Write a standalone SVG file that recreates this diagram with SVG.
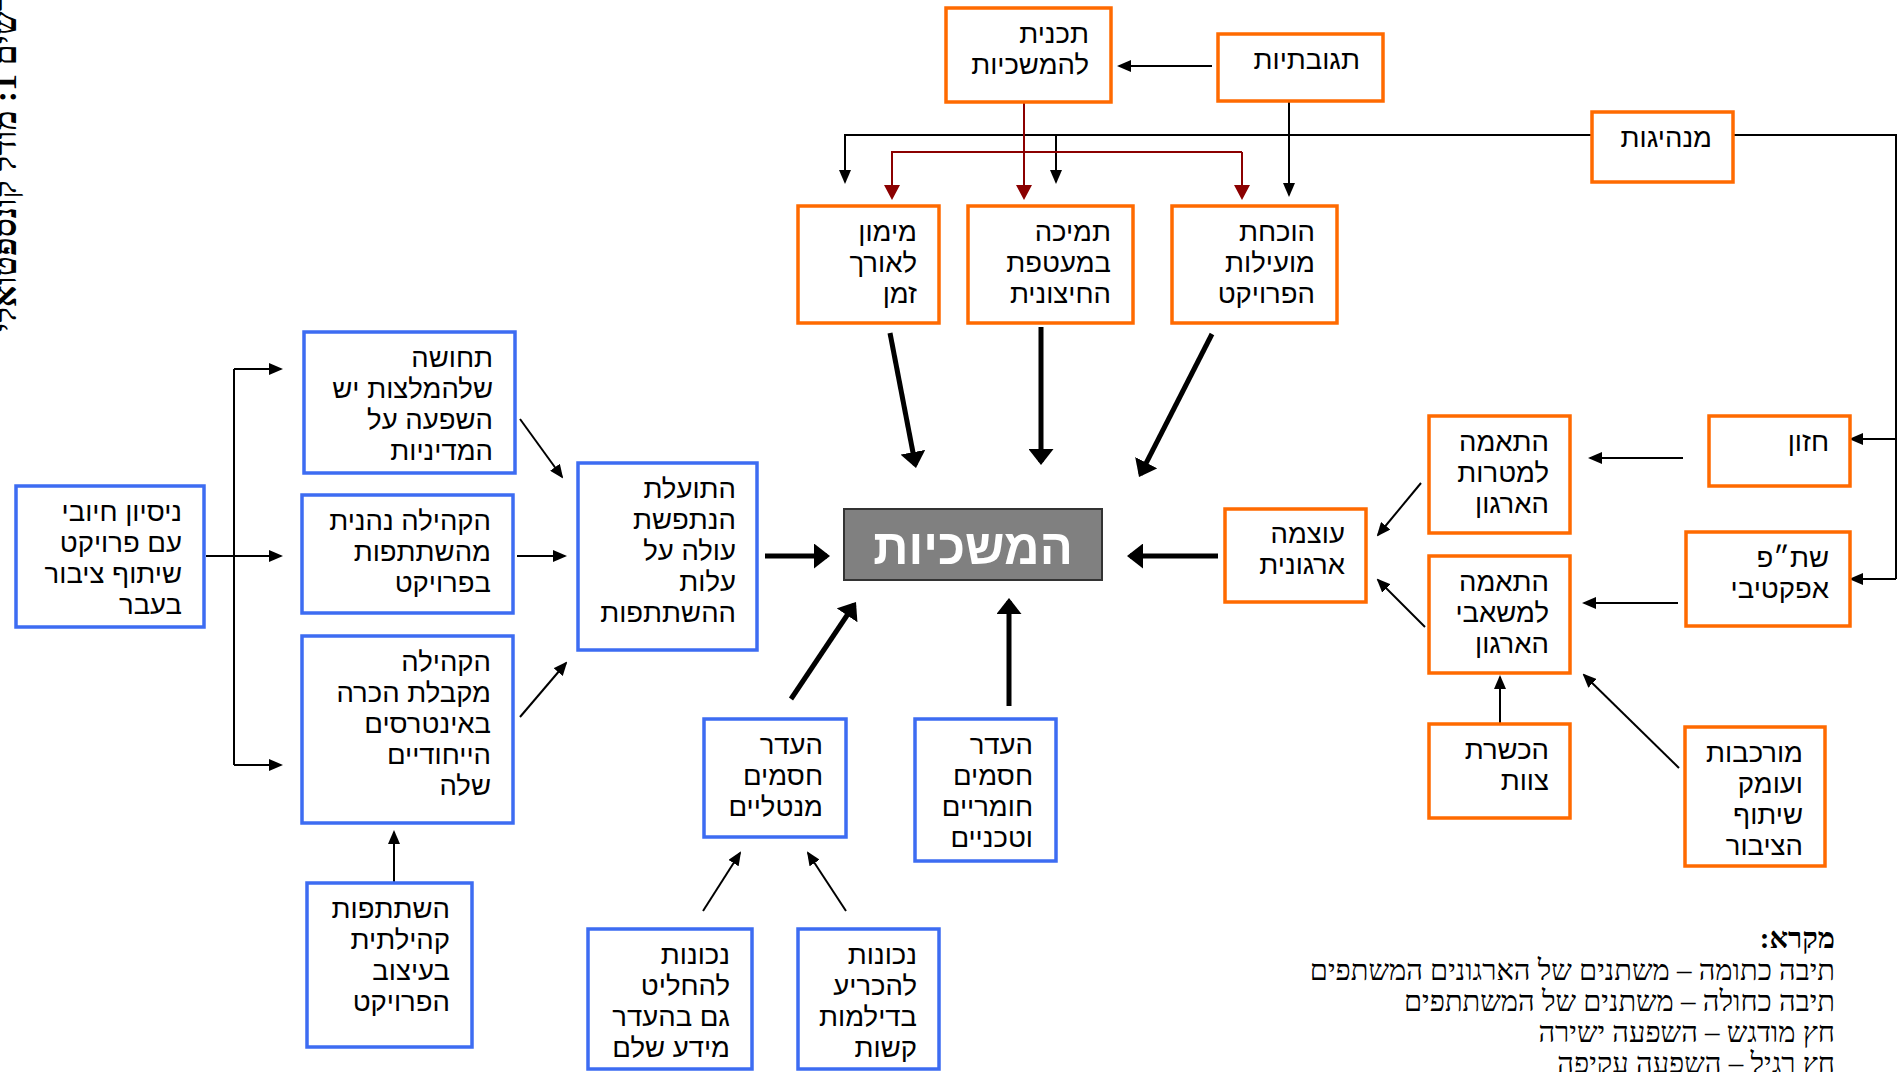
<svg xmlns="http://www.w3.org/2000/svg" width="1897" height="1072" viewBox="0 0 1897 1072">
<style>
.o{fill:#fff;stroke:#ff6a00;stroke-width:3.5}
.b{fill:#fff;stroke:#3d6cf2;stroke-width:3.5}
.t{font-family:"Liberation Sans","DejaVu Sans",sans-serif;font-size:27.5px;fill:#000;text-anchor:end}
.thin{stroke:#000;stroke-width:2;fill:none;marker-end:url(#ah)}
.line{stroke:#000;stroke-width:2;fill:none}
.bold{stroke:#000;stroke-width:5;fill:none;marker-end:url(#ahb)}
.reda{stroke:#8b0000;stroke-width:2;fill:none;marker-end:url(#ahr)}
.leg{font-family:"Liberation Serif","DejaVu Serif",serif;font-size:29px;fill:#000;text-anchor:end}
</style>
<defs>
<marker id="ah" markerUnits="userSpaceOnUse" markerWidth="14" markerHeight="12" refX="12" refY="6" orient="auto"><path d="M0,0 L14,6 L0,12 z" fill="#000"/></marker>
<marker id="ahb" markerUnits="userSpaceOnUse" markerWidth="16" markerHeight="25" refX="13" refY="12.5" orient="auto"><path d="M0,0 L16,12.5 L0,25 z" fill="#000"/></marker>
<marker id="ahr" markerUnits="userSpaceOnUse" markerWidth="15" markerHeight="16" refX="13" refY="8" orient="auto"><path d="M0,0 L15,8 L0,16 z" fill="#8b0000"/></marker>
</defs>
<rect width="1897" height="1072" fill="#fff"/>

<text transform="translate(16,332) rotate(-90)" font-family="Liberation Serif, DejaVu Serif, serif" font-size="34" font-weight="bold">תרשים 1: מודל קונספטואלי</text>

<g id="connectors">
<line class="thin" x1="1212" y1="66" x2="1119" y2="66"/>
<line class="thin" x1="1289" y1="101" x2="1289" y2="195"/>
<polyline class="thin" points="1592,135 845,135 845,182"/>
<line class="thin" x1="1056" y1="135" x2="1056" y2="182"/>
<polyline class="line" points="1733,135 1896,135 1896,579"/>
<line class="thin" x1="1896" y1="439" x2="1851" y2="439"/>
<line class="thin" x1="1896" y1="579" x2="1851" y2="579"/>
<line class="reda" x1="1024" y1="102" x2="1024" y2="198"/>
<polyline class="reda" points="1242,152 892,152 892,198"/>
<line class="reda" x1="1242" y1="152" x2="1242" y2="198"/>
<line class="bold" x1="890" y1="333" x2="915.4" y2="465"/>
<line class="bold" x1="1041" y1="327" x2="1041" y2="462"/>
<line class="bold" x1="1212" y1="334" x2="1140.4" y2="474.3"/>
<line class="bold" x1="765" y1="556" x2="827" y2="556"/>
<line class="bold" x1="1218" y1="556" x2="1130" y2="556"/>
<line class="bold" x1="791" y1="699" x2="854.3" y2="604.5"/>
<line class="bold" x1="1009" y1="706" x2="1009" y2="601"/>
<line class="line" x1="206" y1="556" x2="234" y2="556"/>
<line class="line" x1="234" y1="369" x2="234" y2="765"/>
<line class="thin" x1="234" y1="369" x2="281" y2="369"/>
<line class="thin" x1="234" y1="556" x2="281" y2="556"/>
<line class="thin" x1="234" y1="765" x2="281" y2="765"/>
<line class="thin" x1="520" y1="419" x2="562" y2="477"/>
<line class="thin" x1="517" y1="556" x2="565" y2="556"/>
<line class="thin" x1="520" y1="717" x2="566" y2="663"/>
<line class="thin" x1="394" y1="882" x2="394" y2="832"/>
<line class="thin" x1="703" y1="911" x2="740" y2="853"/>
<line class="thin" x1="846" y1="911" x2="808" y2="853"/>
<line class="thin" x1="1683" y1="458" x2="1590" y2="458"/>
<line class="thin" x1="1678" y1="603" x2="1584" y2="603"/>
<line class="thin" x1="1421" y1="483" x2="1378" y2="535"/>
<line class="thin" x1="1425" y1="627" x2="1378" y2="580"/>
<line class="thin" x1="1500" y1="723" x2="1500" y2="677"/>
<line class="thin" x1="1679" y1="768" x2="1584" y2="675"/>
</g>

<g id="n_plan"><rect class="o" x="946" y="8" width="165" height="94"/><text class="t"><tspan x="1089" y="43">תכנית</tspan><tspan x="1089" y="74">להמשכיות</tspan></text></g>
<g id="n_reactive"><rect class="o" x="1218" y="34" width="165" height="67"/><text class="t"><tspan x="1360" y="69">תגובתיות</tspan></text></g>
<g id="n_leadership"><rect class="o" x="1592" y="112" width="141" height="70"/><text class="t"><tspan x="1712" y="147">מנהיגות</tspan></text></g>
<g id="n_funding"><rect class="o" x="798" y="206" width="141" height="117"/><text class="t"><tspan x="917" y="241">מימון</tspan><tspan x="917" y="272">לאורך</tspan><tspan x="917" y="303">זמן</tspan></text></g>
<g id="n_support"><rect class="o" x="968" y="206" width="165" height="117"/><text class="t"><tspan x="1111" y="241">תמיכה</tspan><tspan x="1111" y="272">במעטפת</tspan><tspan x="1111" y="303">החיצונית</tspan></text></g>
<g id="n_proof"><rect class="o" x="1172" y="206" width="165" height="117"/><text class="t"><tspan x="1315" y="241">הוכחת</tspan><tspan x="1315" y="272">מועילות</tspan><tspan x="1315" y="303">הפרויקט</tspan></text></g>
<g id="n_vision"><rect class="o" x="1709" y="416" width="141" height="70"/><text class="t"><tspan x="1829" y="451">חזון</tspan></text></g>
<g id="n_goals"><rect class="o" x="1429" y="416" width="141" height="117"/><text class="t"><tspan x="1549" y="451">התאמה</tspan><tspan x="1549" y="482">למטרות</tspan><tspan x="1549" y="513">הארגון</tspan></text></g>
<g id="n_effective"><rect class="o" x="1686" y="532" width="164" height="94"/><text class="t"><tspan x="1829" y="567">שת״פ</tspan><tspan x="1829" y="598">אפקטיבי</tspan></text></g>
<g id="n_resources"><rect class="o" x="1429" y="556" width="141" height="117"/><text class="t"><tspan x="1549" y="591">התאמה</tspan><tspan x="1549" y="622">למשאבי</tspan><tspan x="1549" y="653">הארגון</tspan></text></g>
<g id="n_orgpower"><rect class="o" x="1225" y="509" width="141" height="93"/><text class="t"><tspan x="1345" y="543">עוצמה</tspan><tspan x="1345" y="574">ארגונית</tspan></text></g>
<g id="n_training"><rect class="o" x="1429" y="724" width="141" height="94"/><text class="t"><tspan x="1549" y="759">הכשרת</tspan><tspan x="1549" y="790">צוות</tspan></text></g>
<g id="n_complexity"><rect class="o" x="1685" y="727" width="140" height="139"/><text class="t"><tspan x="1803" y="762">מורכבות</tspan><tspan x="1803" y="793">ועומק</tspan><tspan x="1803" y="824">שיתוף</tspan><tspan x="1803" y="855">הציבור</tspan></text></g>

<g id="n_center"><rect x="844" y="509" width="258" height="71" fill="#808080" stroke="#333" stroke-width="2"/><text x="973" y="564" font-family="Liberation Sans, DejaVu Sans, sans-serif" font-size="49" font-weight="bold" fill="#fff" text-anchor="middle">המשכיות</text></g>

<g id="n_experience"><rect class="b" x="16" y="486" width="188" height="141"/><text class="t"><tspan x="182" y="521">ניסיון חיובי</tspan><tspan x="182" y="552">עם פרויקט</tspan><tspan x="182" y="583">שיתוף ציבור</tspan><tspan x="182" y="614">בעבר</tspan></text></g>
<g id="n_influence"><rect class="b" x="304" y="332" width="211" height="141"/><text class="t"><tspan x="493" y="367">תחושה</tspan><tspan x="493" y="398">שלהמלצות יש</tspan><tspan x="493" y="429">השפעה על</tspan><tspan x="493" y="460">המדיניות</tspan></text></g>
<g id="n_benefit"><rect class="b" x="302" y="495" width="211" height="118"/><text class="t"><tspan x="491" y="530">הקהילה נהנית</tspan><tspan x="491" y="561">מהשתתפות</tspan><tspan x="491" y="592">בפרויקט</tspan></text></g>
<g id="n_recognition"><rect class="b" x="302" y="636" width="211" height="187"/><text class="t"><tspan x="491" y="671">הקהילה</tspan><tspan x="491" y="702">מקבלת הכרה</tspan><tspan x="491" y="733">באינטרסים</tspan><tspan x="491" y="764">הייחודיים</tspan><tspan x="491" y="795">שלה</tspan></text></g>
<g id="n_perceived"><rect class="b" x="578" y="463" width="179" height="187"/><text class="t"><tspan x="736" y="498">התועלת</tspan><tspan x="736" y="529">הנתפשת</tspan><tspan x="736" y="560">עולה על</tspan><tspan x="736" y="591">עלות</tspan><tspan x="736" y="622">ההשתתפות</tspan></text></g>
<g id="n_design"><rect class="b" x="307" y="883" width="165" height="164"/><text class="t"><tspan x="450" y="918">השתתפות</tspan><tspan x="450" y="949">קהילתית</tspan><tspan x="450" y="980">בעיצוב</tspan><tspan x="450" y="1011">הפרויקט</tspan></text></g>
<g id="n_mental"><rect class="b" x="704" y="719" width="142" height="118"/><text class="t"><tspan x="823" y="754">העדר</tspan><tspan x="823" y="785">חסמים</tspan><tspan x="823" y="816">מנטליים</tspan></text></g>
<g id="n_material"><rect class="b" x="915" y="719" width="141" height="142"/><text class="t"><tspan x="1033" y="754">העדר</tspan><tspan x="1033" y="785">חסמים</tspan><tspan x="1033" y="816">חומריים</tspan><tspan x="1033" y="847">וטכניים</tspan></text></g>
<g id="n_decide"><rect class="b" x="588" y="929" width="164" height="140"/><text class="t"><tspan x="730" y="964">נכונות</tspan><tspan x="730" y="995">להחליט</tspan><tspan x="730" y="1026">גם בהעדר</tspan><tspan x="730" y="1057">מידע שלם</tspan></text></g>
<g id="n_dilemma"><rect class="b" x="798" y="929" width="141" height="140"/><text class="t"><tspan x="917" y="964">נכונות</tspan><tspan x="917" y="995">להכריע</tspan><tspan x="917" y="1026">בדילמות</tspan><tspan x="917" y="1057">קשות</tspan></text></g>

<g id="legend">
<text class="leg" x="1835" y="948" font-weight="bold">מקרא:&#x200F;</text>
<text class="leg" x="1835" y="980">תיבה כתומה – משתנים של הארגונים המשתפים</text>
<text class="leg" x="1835" y="1011">תיבה כחולה – משתנים של המשתתפים</text>
<text class="leg" x="1835" y="1042">חץ מודגש – השפעה ישירה</text>
<text class="leg" x="1835" y="1073">חץ רגיל – השפעה עקיפה</text>
</g>
</svg>
